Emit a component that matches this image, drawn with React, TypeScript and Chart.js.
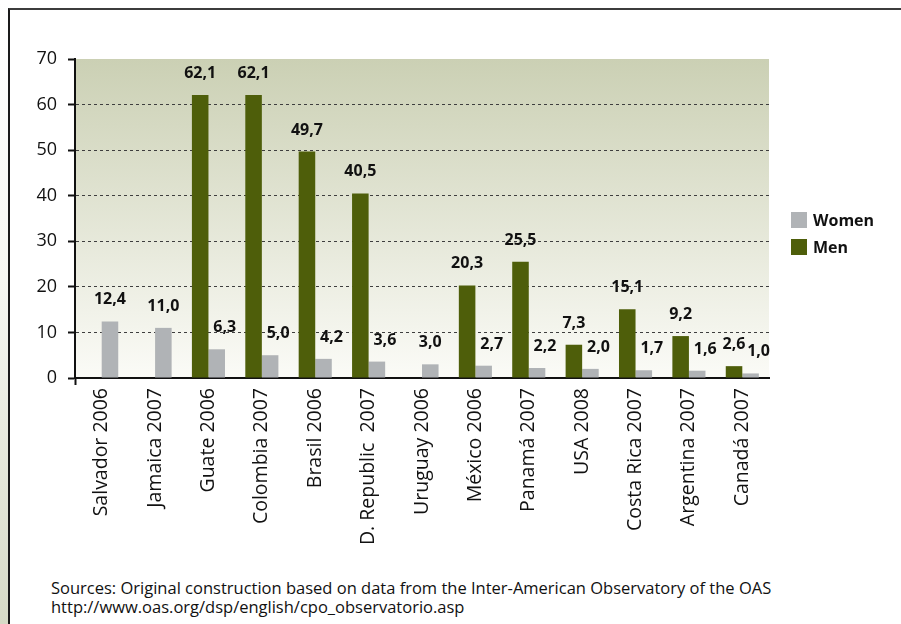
import React, { useEffect, useRef } from "react";
import { Chart, registerables } from "chart.js";

Chart.register(...registerables);

const categories = [
  "Salvador 2006",
  "Jamaica 2007",
  "Guate 2006",
  "Colombia 2007",
  "Brasil 2006",
  "D. Republic  2007",
  "Uruguay 2006",
  "México 2006",
  "Panamá 2007",
  "USA 2008",
  "Costa Rica 2007",
  "Argentina 2007",
  "Canadá 2007",
];

const menValues: (number | null)[] = [null, null, 62.1, 62.1, 49.7, 40.5, null, 20.3, 25.5, 7.3, 15.1, 9.2, 2.6];
const womenValues: (number | null)[] = [12.4, 11.0, 6.3, 5.0, 4.2, 3.6, 3.0, 2.7, 2.2, 2.0, 1.7, 1.6, 1.0];

const yTicks = [0, 10, 20, 30, 40, 50, 60, 70];

const MEN_COLOR = "#4e5e0a";
const WOMEN_COLOR = "#b0b3b6";
const FONT = "'Open Sans', 'DejaVu Sans', sans-serif";

const fmt = (v: number) => v.toFixed(1).replace(".", ",");

const bgPlugin = {
  id: "bgPlugin",
  beforeDraw(chart: any) {
    const { ctx, chartArea } = chart;
    const g = ctx.createLinearGradient(0, chartArea.top, 0, chartArea.bottom);
    g.addColorStop(0, "#cbd0b4");
    g.addColorStop(1, "#fbfbf7");
    ctx.save();
    ctx.fillStyle = g;
    ctx.fillRect(chartArea.left, chartArea.top, chartArea.right - chartArea.left, chartArea.bottom - chartArea.top);
    ctx.restore();
  },
};

const labelPlugin = {
  id: "labelPlugin",
  afterDatasetsDraw(chart: any) {
    const { ctx } = chart;
    ctx.save();
    ctx.font = `bold 16px ${FONT}`;
    ctx.fillStyle = "#111";
    ctx.textAlign = "center";
    ctx.textBaseline = "alphabetic";
    chart.data.datasets.forEach((ds: any, di: number) => {
      const meta = chart.getDatasetMeta(di);
      meta.data.forEach((bar: any, i: number) => {
        const v = ds.data[i];
        if (v === null || v === undefined) return;
        const shift = di === 1 && menValues[i] !== null ? 8 : 0;
        ctx.fillText(fmt(v), bar.x + shift, bar.y - 17);
      });
    });
    ctx.restore();
  },
};

const legendPlugin = {
  id: "legendPlugin",
  afterDraw(chart: any) {
    const { ctx, chartArea } = chart;
    const x = chartArea.right + 22;
    const items = [
      { label: "Women", color: WOMEN_COLOR, y: 212 },
      { label: "Men", color: MEN_COLOR, y: 239 },
    ];
    ctx.save();
    ctx.font = `bold 16px ${FONT}`;
    ctx.textBaseline = "middle";
    ctx.textAlign = "left";
    items.forEach((it) => {
      const top = chartArea.top + (it.y - 59);
      ctx.fillStyle = it.color;
      ctx.fillRect(x, top, 16, 16);
      ctx.fillStyle = "#111";
      ctx.fillText(it.label, x + 22, top + 9);
    });
    ctx.restore();
  },
};

export default function App() {
  const ref = useRef<HTMLCanvasElement | null>(null);

  useEffect(() => {
    if (!ref.current) return;
    Chart.defaults.font.family = FONT;
    const chart = new Chart(ref.current, {
      type: "bar",
      data: {
        labels: categories,
        datasets: [
          {
            label: "Men",
            data: menValues,
            backgroundColor: MEN_COLOR,
            categoryPercentage: 0.62,
            barPercentage: 1,
          },
          {
            label: "Women",
            data: womenValues,
            backgroundColor: WOMEN_COLOR,
            categoryPercentage: 0.62,
            barPercentage: 1,
          },
        ],
      },
      options: {
        animation: false,
        responsive: false,
        maintainAspectRatio: false,
        layout: { padding: { top: 49, right: 121, left: 0, bottom: 0 } },
        plugins: {
          legend: { display: false },
          tooltip: { enabled: false },
        },
        scales: {
          x: {
            offset: true,
            grid: {
              display: true,
              drawOnChartArea: false,
              drawTicks: true,
              tickLength: 7,
              tickWidth: 2,
              tickColor: (c: any) => (c.index === 0 ? "#111" : "rgba(0,0,0,0)"),
            },
            border: { display: true, color: "#111", width: 2 },
            ticks: {
              autoSkip: false,
              minRotation: 90,
              maxRotation: 90,
              padding: 3,
              color: "#111",
              font: { size: 19.5, family: FONT },
            },
            afterFit: (s: any) => {
              s.height = 192;
            },
          },
          y: {
            min: 0,
            max: 70,
            afterBuildTicks: (s: any) => {
              s.ticks = yTicks.map((v) => ({ value: v }));
            },
            grid: {
              display: true,
              drawTicks: true,
              tickLength: 7,
              tickWidth: 2,
              tickColor: "#111",
              lineWidth: 1,
              color: (c: any) => {
                const v = c.tick ? c.tick.value : 0;
                return v === 0 || v === 70 ? "rgba(0,0,0,0)" : "#3e3e3e";
              },
              tickBorderDash: [],
              borderDash: [3, 3],
            } as any,
            border: { display: true, color: "#111", width: 2, dash: [3, 3] } as any,
            ticks: {
              padding: 11,
              color: "#111",
              font: { size: 18, family: FONT },
            },
            afterFit: (s: any) => {
              s.width = 65;
            },
          },
        },
      },
      plugins: [bgPlugin, labelPlugin, legendPlugin],
    } as any);
    return () => chart.destroy();
  }, []);

  return (
    <div>
      <div
        style={{
          position: "fixed",
          left: 0,
          top: 0,
          width: 8,
          height: 624,
          background: "linear-gradient(to bottom, #ffffff 0%, #f6f7f2 45%, #d6dac6 100%)",
        }}
      />
      <div
        style={{
          position: "absolute",
          left: 8,
          top: 8,
          width: 893,
          height: 616,
          boxSizing: "border-box",
          borderTop: "2px solid #3c3c3c",
          borderLeft: "2px solid #1a1a1a",
          background: "#fff",
          overflow: "hidden",
        }}
      >
        <canvas ref={ref} width={880} height={560} style={{ position: "absolute", left: 0, top: 0 }} />
        <div
          style={{
            position: "absolute",
            left: 41,
            top: 568,
            fontFamily: FONT,
            fontSize: 16.5,
            lineHeight: "19px",
            color: "#111",
            whiteSpace: "nowrap",
          }}
        >
          <div>Sources: Original construction based on data from the Inter-American Observatory of the OAS</div>
          <div>http://www.oas.org/dsp/english/cpo_observatorio.asp</div>
        </div>
      </div>
    </div>
  );
}
